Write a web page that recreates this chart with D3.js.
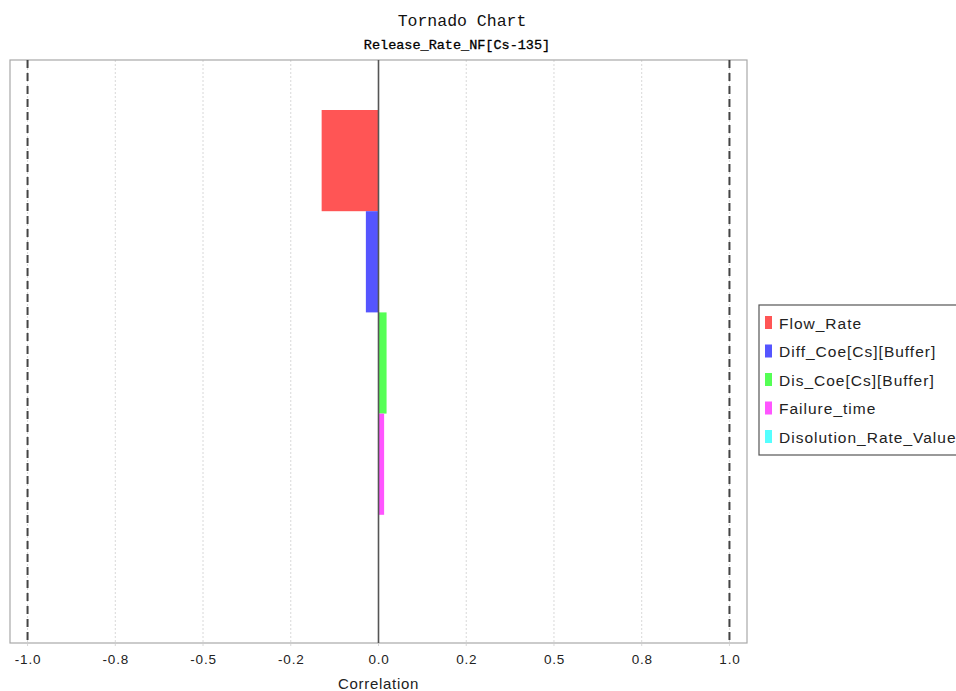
<!DOCTYPE html>
<html>
<head>
<meta charset="utf-8">
<style>
  body { margin: 0; background: #fff; }
</style>
</head>
<body>
<svg width="956" height="691"></svg>
<script src="https://d3js.org/d3.v7.min.js"></script>
<script>

var categories = ["Flow_Rate", "Diff_Coe[Cs][Buffer]", "Dis_Coe[Cs][Buffer]", "Failure_time", "Disolution_Rate_Value"];
var values = [-0.162, -0.036, 0.023, 0.016, 0.0];
var colors = ["#ff5555", "#5555ff", "#55ff55", "#ff55ff", "#55ffff"];
var tickValues = [-1, -0.75, -0.5, -0.25, 0, 0.25, 0.5, 0.75, 1];
var tickLabels = ["-1.0", "-0.8", "-0.5", "-0.2", "0.0", "0.2", "0.5", "0.8", "1.0"];
var limits = [-1, 1];

var svg = d3.select("svg"),
    margin = {top: 60, left: 10},
    width = 737,
    height = 583,
    g = svg.append("g").attr("transform", "translate(" + margin.left + "," + margin.top + ")");

var x = d3.scaleLinear()
    .domain([-1.05, 1.05])
    .range([0, width]);

var y = d3.scaleBand()
    .domain(categories)
    .range([50, 556]);

// titles
svg.append("text")
    .attr("x", 462)
    .attr("y", 26)
    .attr("text-anchor", "middle")
    .attr("font-family", "Liberation Mono, monospace")
    .attr("font-size", 16.5)
    .attr("fill", "#111")
    .text("Tornado Chart");

svg.append("text")
    .attr("x", 457)
    .attr("y", 49)
    .attr("text-anchor", "middle")
    .attr("font-family", "Liberation Mono, monospace")
    .attr("font-size", 13.5)
    .attr("fill", "#000")
    .attr("stroke", "#000")
    .attr("stroke-width", 0.3)
    .text("Release_Rate_NF[Cs-135]");

// grid
g.append("g")
  .selectAll("line")
  .data(tickValues)
  .enter().append("line")
    .attr("x1", function(d) { return x(d); })
    .attr("x2", function(d) { return x(d); })
    .attr("y1", 0)
    .attr("y2", height + 4)
    .attr("stroke", "#d8d8d8")
    .attr("stroke-width", 1)
    .style("stroke-dasharray", "2,2");

// plot border
g.append("rect")
    .attr("x", 0)
    .attr("y", 0)
    .attr("width", width)
    .attr("height", height)
    .attr("fill", "none")
    .attr("stroke", "#a8a8a8")
    .attr("stroke-width", 1.2);

// bars
g.append("g")
  .selectAll("rect")
  .data(values)
  .enter().append("rect")
    .attr("x", function(d) { return x(Math.min(0, d)); })
    .attr("y", function(d, i) { return y(categories[i]); })
    .attr("width", function(d) { return Math.abs(x(d) - x(0)); })
    .attr("height", y.bandwidth())
    .attr("fill", function(d, i) { return colors[i]; });

// zero line
g.append("line")
    .attr("x1", x(0))
    .attr("x2", x(0))
    .attr("y1", 0)
    .attr("y2", height)
    .attr("stroke", "#555")
    .attr("stroke-width", 1.6);

// +-1 markers
g.append("g")
  .selectAll("line")
  .data(limits)
  .enter().append("line")
    .attr("x1", function(d) { return x(d); })
    .attr("x2", function(d) { return x(d); })
    .attr("y1", 0)
    .attr("y2", height)
    .attr("stroke", "#444")
    .attr("stroke-width", 2)
    .style("stroke-dasharray", "8,5");

// x axis
var xAxis = g.append("g")
    .attr("transform", "translate(0," + height + ")")
    .call(d3.axisBottom(x)
      .tickValues(tickValues)
      .tickFormat(function(d, i) { return tickLabels[i]; })
      .tickSize(0)
      .tickPadding(11));

xAxis.select(".domain").remove();
xAxis.selectAll("text")
    .attr("font-family", "Liberation Sans, Arial, sans-serif")
    .attr("font-size", 13.5)
    .attr("letter-spacing", 0.8)
    .attr("fill", "#222");

svg.append("text")
    .attr("x", margin.left + x(0))
    .attr("y", 689)
    .attr("text-anchor", "middle")
    .attr("font-family", "Liberation Sans, Arial, sans-serif")
    .attr("font-size", 15)
    .attr("letter-spacing", 0.7)
    .attr("fill", "#222")
    .text("Correlation");

// legend
var legend = svg.append("g").attr("transform", "translate(759,305)");

legend.append("rect")
    .attr("x", 0)
    .attr("y", 0)
    .attr("width", 230)
    .attr("height", 150)
    .attr("fill", "#fff")
    .attr("stroke", "#555")
    .attr("stroke-width", 1.2);

var item = legend.selectAll(".item")
    .data(categories)
  .enter().append("g")
    .attr("class", "item")
    .attr("transform", function(d, i) { return "translate(0," + (18 + i * 28.5) + ")"; });

item.append("rect")
    .attr("x", 6)
    .attr("y", -7)
    .attr("width", 7)
    .attr("height", 13)
    .attr("fill", function(d, i) { return colors[i]; });

item.append("text")
    .attr("x", 20)
    .attr("y", 5.5)
    .attr("font-family", "Liberation Sans, Arial, sans-serif")
    .attr("font-size", 15.5)
    .attr("letter-spacing", 1)
    .attr("fill", "#222")
    .text(function(d) { return d; });

</script>
</body>
</html>
